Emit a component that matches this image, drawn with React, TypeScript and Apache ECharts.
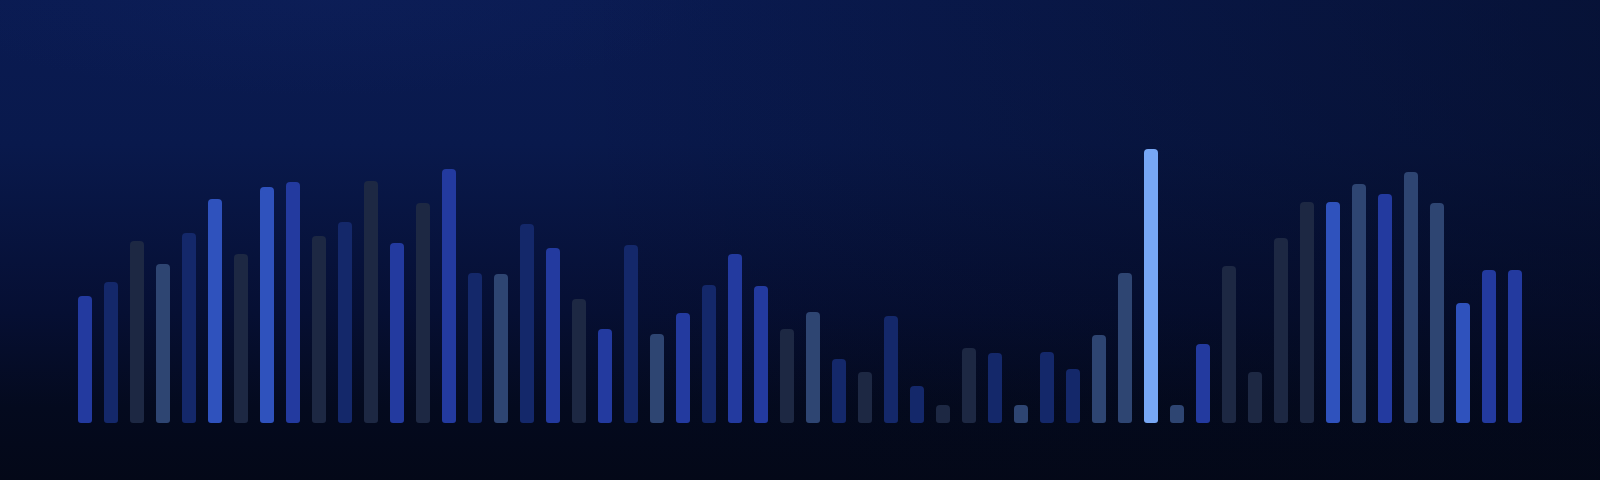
import React, { useEffect, useRef } from 'react'
import * as echarts from 'echarts'

// bar heights (chart units, axis max 300)
const values = [
  127, 141, 182, 159, 190, 224, 169, 236, 241, 187, 201, 242, 180, 220, 254,
  150, 149, 199, 175, 124, 94, 178, 89, 110, 138, 169, 137, 94, 111, 64,
  51, 107, 37, 18, 75, 70, 18, 71, 54, 88, 150, 274, 18, 79,
  157, 51, 185, 221, 221, 239, 229, 251, 220, 120, 153, 153
]

// colour class of each bar
const tones = [
  'M', 'N', 'D', 'S', 'N', 'B', 'D', 'B', 'M', 'D', 'N', 'D', 'M', 'D', 'M',
  'N', 'S', 'N', 'M', 'D', 'M', 'N', 'S', 'M', 'N', 'M', 'M', 'D', 'S', 'N',
  'D', 'N', 'N', 'D', 'D', 'N', 'S', 'N', 'N', 'S', 'S', 'L', 'S', 'M',
  'D', 'D', 'D', 'D', 'B', 'S', 'M', 'S', 'S', 'B', 'M', 'M'
]

const categories = values.map((_, i) => `${i + 1}`)

const palette: Record<string, string> = {
  M: '#233a9f',
  B: '#2f52bd',
  N: '#14286a',
  D: '#1d2843',
  S: '#2e4572',
  L: '#77a7f5'
}

const App: React.FC = () => {
  const chartRef = useRef<HTMLDivElement>(null)

  useEffect(() => {
    document.body.style.margin = '0'
    if (!chartRef.current) return
    const chart = echarts.init(chartRef.current, undefined, { renderer: 'svg' })

    const data = values.map((v, i) => ({
      value: v,
      itemStyle: { color: palette[tones[i]] }
    }))

    chart.setOption({
      animation: false,
      backgroundColor: 'transparent',
      grid: { left: 72, right: 72, top: 123, bottom: 57 },
      xAxis: {
        type: 'category',
        data: categories,
        axisLine: { show: false },
        axisTick: { show: false },
        axisLabel: { show: false },
        splitLine: { show: false }
      },
      yAxis: {
        type: 'value',
        min: 0,
        max: 300,
        axisLine: { show: false },
        axisTick: { show: false },
        axisLabel: { show: false },
        splitLine: { show: false }
      },
      series: [
        {
          type: 'bar',
          data,
          barWidth: 14,
          itemStyle: { borderRadius: [4, 4, 3, 3] }
        }
      ]
    })

    return () => chart.dispose()
  }, [])

  return (
    <div
      ref={chartRef}
      style={{
        width: '1600px',
        height: '480px',
        background: [
          'radial-gradient(ellipse 25% 20% at 20% 0%, rgba(24,44,112,0.15), rgba(24,44,112,0) 100%)',
          'linear-gradient(to right, rgba(3,8,24,0) 35%, rgba(3,8,24,0.45) 100%)',
          'linear-gradient(to bottom, #0a1b52 0%, #09194c 30%, #060f33 65%, #040a1e 85%, #040818 100%)'
        ].join(', ')
      }}
    />
  )
}

export default App
